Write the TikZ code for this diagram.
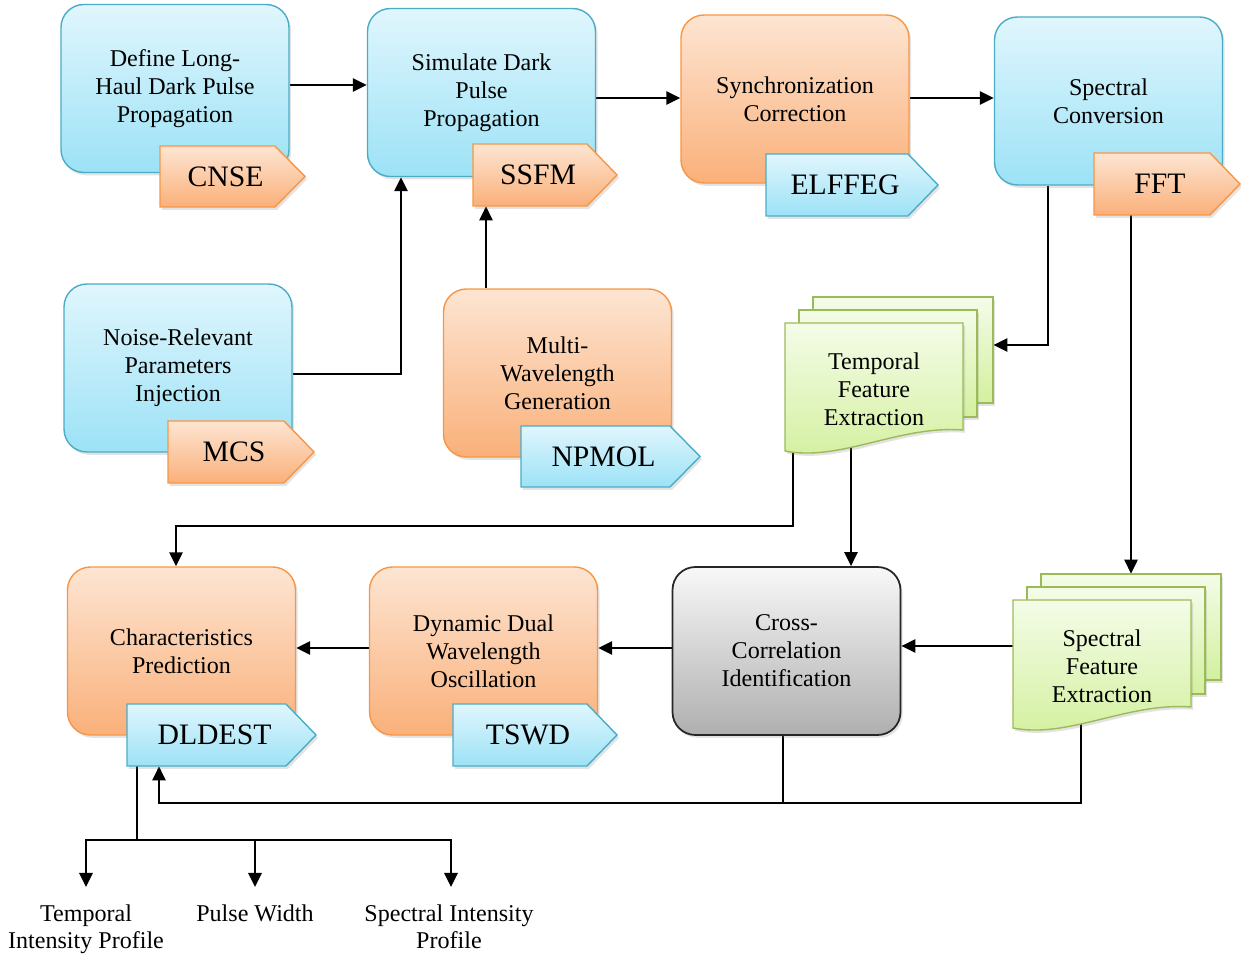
\documentclass[tikz,border=0pt]{standalone}
\usepackage{fontspec}
\setmainfont{Liberation Serif}
\usetikzlibrary{arrows.meta,shadows,backgrounds}
\definecolor{blueTop}{HTML}{E0F6FD}
\definecolor{blueBot}{HTML}{9CE2F6}
\definecolor{blueLine}{HTML}{4BACC6}
\definecolor{orTop}{HTML}{FDE5D2}
\definecolor{orBot}{HTML}{FAB07A}
\definecolor{orLine}{HTML}{F79646}
\definecolor{grTop}{HTML}{F4FCE8}
\definecolor{grBot}{HTML}{D3F09E}
\definecolor{grLine}{HTML}{9BBB59}
\definecolor{gyTop}{HTML}{F8F8F8}
\definecolor{gyBot}{HTML}{AFAFAF}
\newcommand\boxfont{\fontsize{13.7}{15.9}\selectfont}
\newcommand\tagfont{\fontsize{16.9}{20}\selectfont}
\newcommand\tagbox[7]{% name, style, left, top, right, bottom, text
  \draw[#2] (#3,#4) -- ({#5-30},#4) -- (#5,{(#4+#6)/2}) -- ({#5-30},#6) -- (#3,#6) -- cycle;
  \node[inner sep=0pt, minimum width={(#5-#3)*0.56906pt}, minimum height={(#6-#4)*0.56906pt}] (#1) at ({(#3+#5)/2},{(#4+#6)/2}) {};
  \node[font=\tagfont, inner sep=0pt] (#1t) at ({(#3+#5)/2-7},{(#4+#6)/2}) {#7};
}
\newcommand\docstack[4]{% name, left, top, text
  \draw[docst] ({#2+28},{#3-26}) rectangle ({#2+208},{#3+80});
  \draw[docst] ({#2+14},{#3-13}) rectangle ({#2+192},{#3+94});
  \draw[docst] (#2,#3) -- ({#2+178},#3) -- ({#2+178},{#3+107}) .. controls ({#2+115},{#3+102}) and ({#2+55},{#3+139}) .. (#2,{#3+128}) -- cycle;
  \node[align=center, font=\boxfont] (#1t) at ({#2+89},{#3+66}) {#4};
  \node[inner sep=0pt, minimum width=118.4pt, minimum height=87.6pt] (#1) at ({#2+104},{#3+51}) {};
}
\begin{document}
\begin{tikzpicture}[x=0.02cm, y=-0.02cm,
  shad/.style={drop shadow={opacity=0.22, shadow xshift=1.2pt, shadow yshift=-1.6pt}},
  box/.style={shad, rounded corners=13pt, minimum width=4.56cm, minimum height=3.36cm, align=center, font=\boxfont, line width=0.8pt},
  bluebox/.style={box, draw=blueLine, top color=blueTop, bottom color=blueBot},
  orbox/.style={box, draw=orLine, top color=orTop, bottom color=orBot},
  graybox/.style={box, draw=black!85, line width=1pt, top color=gyTop, bottom color=gyBot},
  ortag/.style={shad, draw=orLine, line width=0.8pt, top color=orTop, bottom color=orBot},
  bltag/.style={shad, draw=blueLine, line width=0.8pt, top color=blueTop, bottom color=blueBot},
  docst/.style={shad, draw=grLine, line width=0.8pt, top color=grTop, bottom color=grBot},
  ln/.style={line width=1.3pt},
  arr/.style={line width=1.3pt, -{Triangle[length=8pt,width=7.5pt]}},
  outtext/.style={anchor=north, align=center, inner xsep=2pt, inner ysep=10pt, font=\fontsize{13.7}{15.3}\selectfont}
]
\useasboundingbox (0,0) rectangle (1241,955);

\node[bluebox] (def) at (175,88.5) {Define Long-\\Haul Dark Pulse\\Propagation};
\tagbox{cnse}{ortag}{160}{146}{305}{207}{CNSE}
\node[bluebox] (sim) at (481.5,92.5) {Simulate Dark\\Pulse\\Propagation};
\tagbox{ssfm}{ortag}{473}{144}{617}{206}{SSFM}
\node[orbox] (sync) at (795,99) {Synchronization\\Correction};
\tagbox{elffeg}{bltag}{766}{154}{938}{216}{ELFFEG}
\node[bluebox] (scon) at (1108.5,101) {Spectral\\Conversion};
\tagbox{fft}{ortag}{1094}{153}{1240}{215}{FFT}
\node[bluebox] (noise) at (178,368) {Noise-Relevant\\Parameters\\Injection};
\tagbox{mcs}{ortag}{168}{421}{314}{483}{MCS}
\node[orbox] (multi) at (557.5,373) {Multi-\\Wavelength\\Generation};
\tagbox{npmol}{bltag}{521}{426}{700}{487}{NPMOL}
\docstack{tdoc}{785}{323}{Temporal\\Feature\\Extraction}
\docstack{sdoc}{1013}{600}{Spectral\\Feature\\Extraction}
\node[graybox] (cross) at (786.5,651) {Cross-\\Correlation\\Identification};
\node[orbox] (dyn) at (483.5,651) {Dynamic Dual\\Wavelength\\Oscillation};
\tagbox{tswd}{bltag}{453}{704}{617}{766}{TSWD}
\node[orbox] (char) at (181.5,651) {Characteristics\\Prediction};
\tagbox{dldest}{bltag}{127}{704}{316}{766}{DLDEST}

\node[outtext] (o1) at (86,887) {Temporal\\Intensity Profile};
\node[outtext] (o2) at (255,887) {Pulse Width};
\node[outtext] (o3) at (449,887) {Spectral Intensity\\Profile};

\begin{scope}[on background layer]
\draw[arr] (def.east |- 0,85) -- (sim.west |- 0,85);
\draw[arr] (sim.east |- 0,98) -- (sync.west |- 0,98);
\draw[arr] (sync.east |- 0,98) -- (scon.west |- 0,98);
\draw[arr] (noise.east |- 0,374) -| (sim.south -| 401,0);
\draw[arr] (multi.north -| 486,0) -- (ssfm.south -| 486,0);
\draw[arr] (scon.south -| 1048,0) |- (tdoc.east |- 0,345);
\draw[arr] (fft.south -| 1131,0) -- (sdoc.north -| 1131,0);
\draw[arr] (tdoc.center -| 793,0) -- (793,526) -| (char.north -| 176,0);
\draw[arr] (tdoc.center -| 851,0) -- (cross.north -| 851,0);
\draw[arr] (sdoc.west |- 0,646) -- (cross.east |- 0,646);
\draw[arr] (cross.west |- 0,648) -- (dyn.east |- 0,648);
\draw[arr] (dyn.west |- 0,648) -- (char.east |- 0,648);
\draw[ln] (cross.south -| 783,0) -- (783,803);
\draw[arr] (sdoc.center -| 1081,0) -- (1081,803) -| (dldest.south -| 159,0);
\draw[ln] (dldest.south -| 137,0) -- (137,840);
\draw[ln, line cap=rect] (86,840) -- (451,840);
\draw[arr] (86,840) -- (o1.north);
\draw[arr] (255,840) -- (o2.north);
\draw[arr] (451,840) -- (o3.north -| 451,0);
\end{scope}
\end{tikzpicture}
\end{document}
